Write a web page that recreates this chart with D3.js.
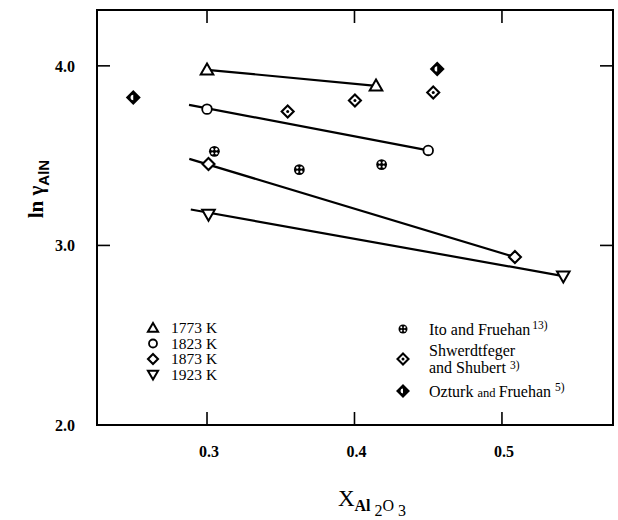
<!DOCTYPE html>
<html>
<head>
<meta charset="utf-8">
<script src="https://cdn.jsdelivr.net/npm/d3@7"></script>
<style>
  body { margin: 0; background: #fff; }
  text { font-family: "Liberation Serif", "Times New Roman", serif; fill: #000; }
</style>
</head>
<body>
<div id="chart"></div>
<script>
// measured series (X_Al2O3, ln gamma_AlN)
var k1773 = [[0.300, 3.978], [0.4146, 3.889]];
var k1823 = [[0.300, 3.759], [0.450, 3.529]];
var k1873 = [[0.301, 3.454], [0.5088, 2.935]];
var k1923 = [[0.301, 3.172], [0.5416, 2.829]];
var ito = [[0.305, 3.524], [0.3626, 3.422], [0.4184, 3.45]];
var shwerdt = [[0.3547, 3.746], [0.4003, 3.807], [0.4534, 3.852]];
var ozturk = [[0.25, 3.824], [0.4561, 3.983]];

// fitted lines: [x0, y0, x1, y1]
var fit1773 = [0.300, 3.978, 0.4146, 3.889];
var fit1823 = [0.2878, 3.783, 0.450, 3.529];
var fit1873 = [0.288, 3.482, 0.5088, 2.935];
var fit1923 = [0.289, 3.20, 0.5416, 2.829];

var xTicks = [0.3, 0.4, 0.5];
var yTicks = [2.0, 3.0, 4.0];

var tempLabels = ["1773 K", "1823 K", "1873 K", "1923 K"];
var tempSymbols = ["triUp", "circle", "diamond", "triDown"];

var width = 618, height = 520;
var margin = { left: 97, right: 5, top: 10, bottom: 95 };

var x = d3.scaleLinear().domain([0.2254, 0.5753]).range([margin.left, width - margin.right]);
var y = d3.scaleLinear().domain([2.0, 4.311]).range([height - margin.bottom, margin.top]);

var svg = d3.select("#chart").append("svg")
    .attr("width", width)
    .attr("height", height);

// frame with inward ticks on all sides
svg.append("rect")
    .attr("x", x.range()[0]).attr("y", y.range()[1])
    .attr("width", x.range()[1] - x.range()[0])
    .attr("height", y.range()[0] - y.range()[1])
    .attr("fill", "none").attr("stroke", "#000").attr("stroke-width", 2);

var tickLen = 13;
xTicks.forEach(function(t) {
    svg.append("line").attr("x1", x(t)).attr("x2", x(t))
        .attr("y1", y.range()[0]).attr("y2", y.range()[0] - tickLen)
        .attr("stroke", "#000").attr("stroke-width", 1.6);
    svg.append("line").attr("x1", x(t)).attr("x2", x(t))
        .attr("y1", y.range()[1]).attr("y2", y.range()[1] + tickLen)
        .attr("stroke", "#000").attr("stroke-width", 1.6);
    svg.append("text").attr("x", x(t) + 2).attr("y", y.range()[0] + 32)
        .attr("text-anchor", "middle").style("font-size", "16px").style("font-weight", "bold")
        .text(d3.format(".1f")(t));
});
yTicks.forEach(function(t) {
    if (t > 2.0) {
        svg.append("line").attr("x1", x.range()[0]).attr("x2", x.range()[0] + tickLen)
            .attr("y1", y(t)).attr("y2", y(t))
            .attr("stroke", "#000").attr("stroke-width", 1.6);
        svg.append("line").attr("x1", x.range()[1]).attr("x2", x.range()[1] - tickLen)
            .attr("y1", y(t)).attr("y2", y(t))
            .attr("stroke", "#000").attr("stroke-width", 1.6);
    }
    svg.append("text").attr("x", 65).attr("y", y(t) + 6)
        .attr("text-anchor", "middle").style("font-size", "16px").style("font-weight", "bold")
        .text(d3.format(".1f")(t));
});

// axis titles
var yl = svg.append("text").attr("transform", "translate(43,189) rotate(-90)")
    .attr("text-anchor", "middle").style("font-size", "21px").style("font-weight", "bold");
yl.append("tspan").text("ln ");
yl.append("tspan").text("\u03b3");
yl.append("tspan").attr("dy", 6).style("font-family", "Liberation Sans, Arial, sans-serif")
    .style("font-size", "15px").text("AlN");

var xl = svg.append("text").attr("x", 372).attr("y", 506)
    .attr("text-anchor", "middle").style("font-size", "23px");
xl.append("tspan").text("X");
xl.append("tspan").attr("dy", 5).style("font-size", "16px").style("font-weight", "bold").text("Al ");
xl.append("tspan").attr("dy", 5).style("font-size", "16px").text("2");
xl.append("tspan").attr("dy", -5).style("font-size", "16px").text("O ");
xl.append("tspan").attr("dy", 5).style("font-size", "16px").text("3");

// fit lines
[fit1773, fit1823, fit1873, fit1923].forEach(function(f) {
    svg.append("line")
        .attr("x1", x(f[0])).attr("y1", y(f[1]))
        .attr("x2", x(f[2])).attr("y2", y(f[3]))
        .attr("stroke", "#000").attr("stroke-width", 2.2);
});

function marker(g, type, cx, cy, s) {
    var h;
    if (type === "triUp") {
        h = s;
        g.append("path")
            .attr("d", "M" + cx + "," + (cy - h * 0.6) + "L" + (cx + h * 0.6) + "," + (cy + h * 0.45) +
                "L" + (cx - h * 0.6) + "," + (cy + h * 0.45) + "Z")
            .attr("fill", "#fff").attr("stroke", "#000").attr("stroke-width", 2);
    } else if (type === "triDown") {
        h = s;
        g.append("path")
            .attr("d", "M" + cx + "," + (cy + h * 0.6) + "L" + (cx + h * 0.6) + "," + (cy - h * 0.45) +
                "L" + (cx - h * 0.6) + "," + (cy - h * 0.45) + "Z")
            .attr("fill", "#fff").attr("stroke", "#000").attr("stroke-width", 2);
    } else if (type === "circle") {
        g.append("circle").attr("cx", cx).attr("cy", cy).attr("r", s * 0.4)
            .attr("fill", "#fff").attr("stroke", "#000").attr("stroke-width", 1.8);
    } else if (type === "diamond" || type === "dotDiamond" || type === "halfDiamond") {
        h = s * 0.5;
        g.append("path")
            .attr("d", "M" + cx + "," + (cy - h) + "L" + (cx + h) + "," + cy +
                "L" + cx + "," + (cy + h) + "L" + (cx - h) + "," + cy + "Z")
            .attr("fill", type === "halfDiamond" ? "#000" : "#fff")
            .attr("stroke", "#000").attr("stroke-width", 2.1);
        if (type === "dotDiamond") {
            g.append("circle").attr("cx", cx).attr("cy", cy).attr("r", 1.5).attr("fill", "#000");
        }
        if (type === "halfDiamond") {
            g.append("path")
                .attr("d", "M" + cx + "," + (cy - h * 0.45) + "A" + (h * 0.45) + "," + (h * 0.45) +
                    " 0 0 0 " + cx + "," + (cy + h * 0.45) + "Z")
                .attr("fill", "#fff");
        }
    } else if (type === "ito") {
        g.append("circle").attr("cx", cx).attr("cy", cy).attr("r", s * 0.45)
            .attr("fill", "#000");
        var d = s * 0.17;
        [[-1, -1], [1, -1], [-1, 1], [1, 1]].forEach(function(o) {
            g.append("circle").attr("cx", cx + o[0] * d).attr("cy", cy + o[1] * d)
                .attr("r", s * 0.1).attr("fill", "#fff");
        });
    }
}

var sizes = { triUp: 10.5, circle: 12, diamond: 12, triDown: 10.5 };
var pts = svg.append("g");
[[k1773, "triUp"], [k1823, "circle"], [k1873, "diamond"], [k1923, "triDown"]].forEach(function(s) {
    s[0].forEach(function(d) { marker(pts, s[1], x(d[0]), y(d[1]), sizes[s[1]]); });
});
ito.forEach(function(d) { marker(pts, "ito", x(d[0]), y(d[1]), 12); });
shwerdt.forEach(function(d) { marker(pts, "dotDiamond", x(d[0]), y(d[1]), 12); });
ozturk.forEach(function(d) { marker(pts, "halfDiamond", x(d[0]), y(d[1]), 12); });

// legend: temperatures
var leg = svg.append("g");
tempLabels.forEach(function(lab, i) {
    var ly = 333 + i * 15.5;
    marker(leg, tempSymbols[i], 153, ly - 5, i === 1 || i === 2 ? 10 : 8.5);
    leg.append("text").attr("x", 171).attr("y", ly).style("font-size", "15.5px").text(lab);
});

// legend: sources
marker(leg, "ito", 403, 329, 10);
var t1 = leg.append("text").attr("x", 429).attr("y", 335).style("font-size", "16px");
t1.append("tspan").text("Ito and Fruehan");
t1.append("tspan").attr("dy", -6).attr("dx", 2).style("font-size", "11.5px").text("13)");

marker(leg, "dotDiamond", 403, 359, 11);
leg.append("text").attr("x", 429).attr("y", 356).style("font-size", "16px").text("Shwerdtfeger");
var t2 = leg.append("text").attr("x", 429).attr("y", 373).style("font-size", "16px");
t2.append("tspan").text("and Shubert ");
t2.append("tspan").attr("dy", -4).style("font-size", "11.5px").text("3)");

marker(leg, "halfDiamond", 403, 391, 11);
var t3 = leg.append("text").attr("x", 429).attr("y", 397).style("font-size", "16px");
t3.append("tspan").text("Ozturk ");
t3.append("tspan").style("font-size", "12.5px").text("and ");
t3.append("tspan").text("Fruehan ");
t3.append("tspan").attr("dy", -6).style("font-size", "11.5px").text("5)");
</script>
</body>
</html>
